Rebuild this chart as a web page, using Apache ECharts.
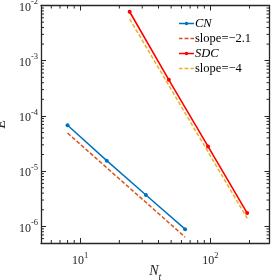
<!DOCTYPE html>
<html><head><meta charset="utf-8">
<script src="https://cdn.jsdelivr.net/npm/echarts@6/dist/echarts.min.js"></script>
<style>html,body{margin:0;padding:0;background:#fff}#c{width:273px;height:280px}</style>
</head><body><div id="c"></div>
<script>
const cnN = [8, 16, 32, 64];
const cnE = [6.8e-5, 1.55e-5, 3.7e-6, 8.9e-7];
const ref21N = [8, 64];
const ref21E = [4.9e-5, 6.4e-7];
const sdcN = [24, 48, 96, 192];
const sdcE = [7.7e-3, 4.5e-4, 2.8e-5, 1.74e-6];
const ref4N = [24, 192];
const ref4E = [5.7e-3, 1.4e-6];
const xMinorTicks = [6, 7, 8, 9, 20, 30, 40, 50, 60, 70, 80, 90, 200];
const yMinorTicks = [6e-7, 7e-7, 8e-7, 9e-7, 2e-6, 3e-6, 4e-6, 5e-6, 6e-6, 7e-6, 8e-6, 9e-6,
  2e-5, 3e-5, 4e-5, 5e-5, 6e-5, 7e-5, 8e-5, 9e-5, 2e-4, 3e-4, 4e-4, 5e-4, 6e-4, 7e-4, 8e-4, 9e-4,
  2e-3, 3e-3, 4e-3, 5e-3, 6e-3, 7e-3, 8e-3, 9e-3];
const xMin = 5, xMax = 285, yMin = 5e-7, yMax = 1e-2;
const legendNames = ['CN', 'slope=\u22122.1', 'SDC', 'slope=\u22124'];

const AX = '#262626';
const FONT = 'Liberation Serif';
const zip = (a, b) => a.map((v, i) => [v, b[i]]);
function isPow10(v) { const e = Math.log10(v); return Math.abs(e - Math.round(e)) < 1e-6; }
function powLabel(v) {
  if (!isPow10(v)) return '';
  const e = Math.round(Math.log10(v));
  return '{b|10}{s|' + e + '}';
}
const richLab = {
  b: { fontFamily: FONT, fontSize: 12, color: AX, lineHeight: 16, verticalAlign: 'bottom' },
  s: { fontFamily: FONT, fontSize: 8.5, color: AX, lineHeight: 16, verticalAlign: 'top' }
};
function axisCommon(extra) {
  return Object.assign({
    type: 'log', logBase: 10,
    nameMoveOverlap: false,
    axisLine: { show: true, onZero: false, lineStyle: { color: AX, width: 1.3 } },
    axisTick: { show: true, inside: true, length: 5, lineStyle: { color: AX, width: 1 } },
    splitLine: { show: false },
    minorTick: { show: false }
  }, extra);
}
const ICON_SOLID = 'path://M0,0 M15,12 M0,5.3 L15,5.3 L15,6.7 L0,6.7 Z M9.3,6 A1.8,1.8 0 1,1 5.7,6 A1.8,1.8 0 1,1 9.3,6 Z';
const ICON_DASH = 'path://M0,0 M15,12 M0,5.3 L3.5,5.3 L3.5,6.7 L0,6.7 Z M5.5,5.3 L9.5,5.3 L9.5,6.7 L5.5,6.7 Z M11.5,5.3 L15,5.3 L15,6.7 L11.5,6.7 Z';

const chart = echarts.init(document.getElementById('c'), null, { renderer: 'canvas' });
const option = {
  animation: false,
  backgroundColor: '#fff',
  grid: { left: 41, right: 3.5, top: 5.5, bottom: 37, containLabel: false, outerBoundsMode: 'none' },
  legend: {
    data: [
      { name: legendNames[0], icon: ICON_SOLID, textStyle: { fontStyle: 'italic' } },
      { name: legendNames[1], icon: ICON_DASH },
      { name: legendNames[2], icon: ICON_SOLID, textStyle: { fontStyle: 'italic' } },
      { name: legendNames[3], icon: ICON_DASH }
    ],
    orient: 'vertical', left: 174, top: 12,
    itemWidth: 15, itemHeight: 12, itemGap: 2,
    textStyle: { fontFamily: FONT, fontSize: 12.5, color: '#000', padding: [0, 0, 0, -4] },
    backgroundColor: 'transparent', borderWidth: 0
  },
  xAxis: [
    axisCommon({ position: 'bottom', min: xMin, max: xMax,
      name: '{n|N}{t|t}', nameLocation: 'middle', nameGap: 21,
      nameTextStyle: { rich: {
        n: { fontFamily: FONT, fontStyle: 'italic', fontSize: 14, color: AX, lineHeight: 18, verticalAlign: 'top' },
        t: { fontFamily: FONT, fontStyle: 'italic', fontSize: 10, color: AX, lineHeight: 18, verticalAlign: 'bottom' } } },
      axisLabel: { show: true, margin: 8, formatter: powLabel, rich: richLab, showMinLabel: false, showMaxLabel: false } }),
    axisCommon({ position: 'top', min: xMin, max: xMax, axisLabel: { show: false } })
  ],
  yAxis: [
    axisCommon({ position: 'left', min: yMin, max: yMax,
      name: 'E', nameLocation: 'middle', nameGap: 33, nameRotate: 90,
      nameTextStyle: { fontFamily: FONT, fontStyle: 'italic', fontSize: 14, color: AX },
      axisLabel: { show: true, margin: 3, formatter: powLabel, rich: richLab, showMinLabel: false } }),
    axisCommon({ position: 'right', min: yMin, max: yMax, axisLabel: { show: false } })
  ],
  series: [
    { name: legendNames[0], type: 'line', data: zip(cnN, cnE), color: '#0072BD',
      symbol: 'circle', symbolSize: 4, showSymbol: true, lineStyle: { width: 1.5 }, z: 5 },
    { name: legendNames[1], type: 'line', data: zip(ref21N, ref21E), color: '#D95319',
      symbol: 'none', lineStyle: { width: 1.5, type: [4, 2] }, z: 4 },
    { name: legendNames[2], type: 'line', data: zip(sdcN, sdcE), color: '#FF0000',
      symbol: 'circle', symbolSize: 4, showSymbol: true, lineStyle: { width: 1.6 }, z: 5 },
    { name: legendNames[3], type: 'line', data: zip(ref4N, ref4E), color: '#EDB120',
      symbol: 'none', lineStyle: { width: 1.5, type: [4, 2] }, z: 4 },
    { name: 'xminor', type: 'custom', silent: true, z: 6,
      data: xMinorTicks.map(v => [v, 1e-4]),
      renderItem: function (params, api) {
        const cs = params.coordSys;
        const x = api.coord([api.value(0), 1e-4])[0];
        const st = { stroke: AX, lineWidth: 1 };
        return { type: 'group', children: [
          { type: 'line', shape: { x1: x, y1: cs.y + cs.height, x2: x, y2: cs.y + cs.height - 3 }, style: st },
          { type: 'line', shape: { x1: x, y1: cs.y, x2: x, y2: cs.y + 3 }, style: st }
        ] };
      } },
    { name: 'yminor', type: 'custom', silent: true, z: 6,
      data: yMinorTicks.map(v => [10, v]),
      renderItem: function (params, api) {
        const cs = params.coordSys;
        const y = api.coord([10, api.value(1)])[1];
        const st = { stroke: AX, lineWidth: 1 };
        return { type: 'group', children: [
          { type: 'line', shape: { x1: cs.x, y1: y, x2: cs.x + 3, y2: y }, style: st },
          { type: 'line', shape: { x1: cs.x + cs.width, y1: y, x2: cs.x + cs.width - 3, y2: y }, style: st }
        ] };
      } }
  ]
};
chart.setOption(option);
</script></body></html>
